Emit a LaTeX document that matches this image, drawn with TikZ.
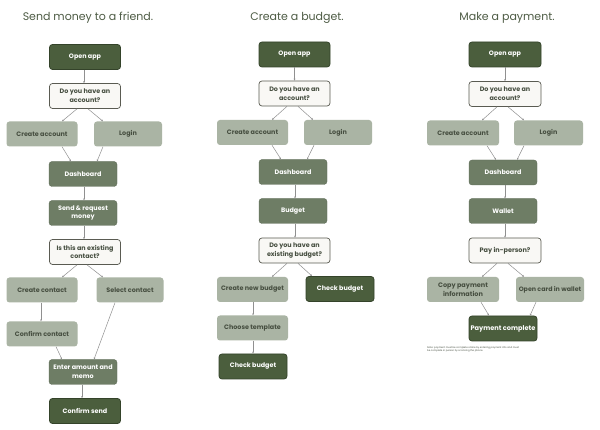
\documentclass[tikz,border=0pt]{standalone}
\usepackage{fontspec}
\setmainfont{Poppins}
\usetikzlibrary{arrows.meta,calc}
\definecolor{dk}{HTML}{4B5E3D}
\definecolor{dkb}{HTML}{34432A}
\definecolor{md}{HTML}{6E7D65}
\definecolor{lt}{HTML}{AAB4A4}
\definecolor{ltt}{HTML}{464E40}
\definecolor{qf}{HTML}{F9F8F5}
\definecolor{qb}{HTML}{5A5B52}
\definecolor{ttl}{HTML}{4E5C45}
\definecolor{ln}{HTML}{909090}
\tikzset{
  box/.style={rounded corners=3pt, minimum height=25pt, inner sep=1pt, align=center,
    font=\fontsize{6.4}{8.8}\selectfont\bfseries},
  darkbox/.style={box, fill=dk, draw=dkb, line width=0.8pt, text=white},
  midbox/.style={box, fill=md, draw=md!85!black, line width=0.3pt, text=white},
  lightbox/.style={box, fill=lt, text=ltt},
  qbox/.style={box, fill=qf, draw=qb, line width=0.7pt, text=ltt},
  ttlstyle/.style={font=\fontsize{11}{13}\selectfont, text=ttl},
  conn/.style={draw=ln, line width=0.5pt, -{Stealth[length=2pt,width=1.8pt]}},
  notestyle/.style={font=\fontsize{2.4}{3.2}\selectfont, text=ltt, align=left, inner sep=0pt}
}
\begin{document}
\begin{tikzpicture}[x=1pt,y=-1pt]
\fill[white] (0,0) rectangle (600,430);
\useasboundingbox (0,0) rectangle (600,430);

% titles
\node[ttlstyle] (t1) at (88,18) {Send money to a friend.};
\node[ttlstyle] (t2) at (297,18) {Create a budget.};
\node[ttlstyle] (t3) at (507,18) {Make a payment.};

% column 1
\node[darkbox, minimum width=71pt] (a1) at (85,57) {Open app};
\node[qbox, minimum width=71pt] (a2) at (85,96) {Do you have an\\account?};
\node[lightbox, minimum width=71pt] (a3) at (42,134) {Create account};
\node[lightbox, minimum width=68pt] (a4) at (128,134) {Login};
\node[midbox, minimum width=68pt] (a5) at (83,174) {Dashboard};
\node[midbox, minimum width=68pt] (a6) at (83,213) {Send \& request\\money};
\node[qbox, minimum width=71pt] (a7) at (85,252) {Is this an existing\\contact?};
\node[lightbox, minimum width=71pt] (a8) at (42,290) {Create contact};
\node[lightbox, minimum width=67pt] (a9) at (130,290) {Select contact};
\node[lightbox, minimum width=71pt] (a10) at (42,334) {Confirm contact};
\node[midbox, minimum width=68pt] (a11) at (83,372) {Enter amount and\\memo};
\node[darkbox, minimum width=71pt] (a12) at (85,411) {Confirm send};

\draw[conn] ($(a1.south)+(-1,0)$) -- ($(a2.north)+(-1,0)$);
\draw[conn] ($(a2.south)+(-8,0)$) -- ($(a3.north)+(20,0)$);
\draw[conn] ($(a2.south)+(3,0)$) -- ($(a4.north)+(-25,0)$);
\draw[conn] ($(a3.south)+(20,0)$) -- ($(a5.north)+(-12,0)$);
\draw[conn] ($(a4.south)+(-25,0)$) -- ($(a5.north)+(14,0)$);
\draw[conn] ($(a5.south)+(1,0)$) -- ($(a6.north)+(1,0)$);
\draw[conn] ($(a6.south)+(1,0)$) -- ($(a7.north)+(-1,0)$);
\draw[conn] ($(a7.south)+(-8,0)$) -- ($(a8.north)+(20,0)$);
\draw[conn] ($(a7.south)+(2,0)$) -- ($(a9.north)+(-27,0)$);
\draw[conn] ($(a8.south)+(-1,0)$) -- ($(a10.north)+(-1,0)$);
\draw[conn] ($(a10.south)+(14,0)$) -- ($(a11.north)+(-21,0)$);
\draw[conn] ($(a9.south)+(-15,0)$) -- ($(a11.north)+(11,0)$);
\draw[conn] ($(a11.south)+(-1,0)$) -- ($(a12.north)+(-3,0)$);

% column 2
\node[darkbox, minimum width=71pt] (b1) at (294.5,54.5) {Open app};
\node[qbox, minimum width=71pt] (b2) at (294.5,93.5) {Do you have an\\account?};
\node[lightbox, minimum width=71pt] (b3) at (252.5,132.5) {Create account};
\node[lightbox, minimum width=68pt] (b4) at (338,132.5) {Login};
\node[midbox, minimum width=68pt] (b5) at (293,172) {Dashboard};
\node[midbox, minimum width=68pt] (b6) at (293,211) {Budget};
\node[qbox, minimum width=71pt] (b7) at (294.5,250.5) {Do you have an\\existing budget?};
\node[lightbox, minimum width=71pt] (b8) at (252.5,289.5) {Create new budget};
\node[darkbox, minimum width=68pt] (b9) at (340,289) {Check budget};
\node[lightbox, minimum width=71pt] (b10) at (252.5,328) {Choose template};
\node[darkbox, minimum width=68pt] (b11) at (253,366.5) {Check budget};

\draw[conn] (b1.south) -- (b2.north);
\draw[conn] ($(b2.south)+(-7.5,0)$) -- ($(b3.north)+(19.5,0)$);
\draw[conn] ($(b2.south)+(3.5,0)$) -- ($(b4.north)+(-25,0)$);
\draw[conn] ($(b3.south)+(19.5,0)$) -- ($(b5.north)+(-12,0)$);
\draw[conn] ($(b4.south)+(-24,0)$) -- ($(b5.north)+(14,0)$);
\draw[conn] ($(b5.south)+(2,0)$) -- ($(b6.north)+(2,0)$);
\draw[conn] ($(b6.south)+(2,0)$) -- ($(b7.north)+(0.5,0)$);
\draw[conn] ($(b7.south)+(-7.5,0)$) -- ($(b8.north)+(19.5,0)$);
\draw[conn] ($(b7.south)+(3.5,0)$) -- ($(b9.north)+(-28,0)$);
\draw[conn] ($(b8.south)+(0.5,0)$) -- ($(b10.north)+(0.5,0)$);
\draw[conn] ($(b10.south)+(0.5,0)$) -- ($(b11.north)+(0,0)$);

% column 3
\node[darkbox, minimum width=72pt] (c1) at (505,54.5) {Open app};
\node[qbox, minimum width=72pt] (c2) at (505,94) {Do you have an\\account?};
\node[lightbox, minimum width=72pt] (c3) at (463,133) {Create account};
\node[lightbox, minimum width=69pt] (c4) at (548.5,133) {Login};
\node[midbox, minimum width=68pt] (c5) at (503,172.5) {Dashboard};
\node[midbox, minimum width=68pt] (c6) at (503,211) {Wallet};
\node[qbox, minimum width=72pt, font=\fontsize{6.5}{8.8}\selectfont\bfseries] (c7) at (505,250.5) {Pay in-person?};
\node[lightbox, minimum width=72pt, font=\fontsize{6.5}{9}\selectfont\bfseries] (c8) at (463,289.5) {Copy payment\\information};
\node[lightbox, minimum width=68pt, font=\fontsize{6.3}{9}\selectfont\bfseries] (c9) at (550,289.5) {Open card in wallet};
\node[darkbox, minimum width=68pt, font=\fontsize{6.6}{9}\selectfont\bfseries] (c10) at (503,328.5) {Payment complete};
\node[notestyle, anchor=north west] (c11) at (427,346.5) {Note: payment must be complete online by entering payment info and must\\be complete in person by scanning the phone.};

\draw[conn] (c1.south) -- (c2.north);
\draw[conn] ($(c2.south)+(-8,0)$) -- ($(c3.north)+(19,0)$);
\draw[conn] ($(c2.south)+(3,0)$) -- ($(c4.north)+(-24.5,0)$);
\draw[conn] ($(c3.south)+(24,0)$) -- ($(c5.north)+(-7,0)$);
\draw[conn] ($(c4.south)+(-24.5,0)$) -- ($(c5.north)+(14,0)$);
\draw[conn] ($(c5.south)+(2,0)$) -- ($(c6.north)+(2,0)$);
\draw[conn] ($(c6.south)+(2,0)$) -- ($(c7.north)+(0,0)$);
\draw[conn] ($(c7.south)+(-8,0)$) -- ($(c8.north)+(19,0)$);
\draw[conn] ($(c7.south)+(3,0)$) -- ($(c9.north)+(-26,0)$);
\draw[conn] ($(c8.south)+(18,0)$) -- ($(c10.north)+(-14,0)$);
\draw[conn] ($(c9.south)+(-14,0)$) -- ($(c10.north)+(27,0)$);
\end{tikzpicture}
\end{document}
